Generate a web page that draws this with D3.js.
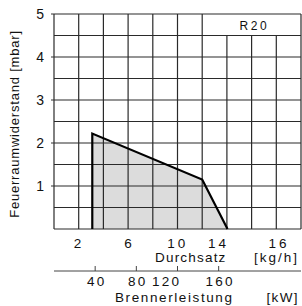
<!DOCTYPE html>
<html>
<head>
<meta charset="utf-8">
<script src="https://cdn.jsdelivr.net/npm/d3@7"></script>
<style>
  body { margin: 0; background: #fff; }
  text { font-family: "Liberation Sans", Arial, sans-serif; fill: #111; }
</style>
</head>
<body>
<div id="chart"></div>
<script>
// data
var mbarTicks = [1, 2, 3, 4, 5];
// the printed kg/h and kW labels do not sit exactly on the grid, so keep where they stand
var durchsatzLabels = ["2", "6", "10", "14", "16"];
var durchsatzLabelAt = [1.9, 6, 9.9, 13.2, 18.1];   // kg/h on the grid
var kwTicks = [40, 80, 120, 160];
var kwLabels = ["40", "80", "120", "160"];
var kwLabelAt = [40, 80, 108, 160];
var fieldX = [3.1, 3.1, 12.0, 14.05];   // kg/h
var fieldY = [0, 2.22, 1.15, 0];        // mbar
var modelName = "R20";

var width = 302;
var height = 306;
var plotLeft = 54, plotRight = 301, plotTop = 14, plotBottom = 229;

var svg = d3.select("#chart")
    .append("svg")
    .attr("width", width)
    .attr("height", height);

var xScale = d3.scaleLinear().domain([0, 20]).range([plotLeft, plotRight]);
var yScale = d3.scaleLinear().domain([0, 5]).range([plotBottom, plotTop]);
var kwScale = d3.scaleLinear().domain([0, 240]).range([plotLeft, plotRight]);

// working field
var pts = fieldX.map(function(x, i) { return [xScale(x), yScale(fieldY[i])]; });
svg.append("path")
    .attr("d", "M" + pts.join("L") + "Z")
    .attr("fill", "#dcdcdc");

// grid
var grid = svg.append("g").attr("stroke", "#2a2a2a").attr("stroke-width", 1.2);
d3.range(0, 21, 2).forEach(function(v) {
    var x = xScale(v);
    // top row has a label box over the right part
    var y0 = (v > 12 && v < 20) ? yScale(4.5) : plotTop;
    grid.append("line")
        .attr("x1", x).attr("x2", x)
        .attr("y1", y0).attr("y2", plotBottom);
});
d3.range(0, 5.01, 0.5).forEach(function(v) {
    var y = yScale(v);
    grid.append("line")
        .attr("x1", plotLeft).attr("x2", plotRight)
        .attr("y1", y).attr("y2", y);
});

// outline of field
svg.append("path")
    .attr("d", "M" + pts.join("L"))
    .attr("fill", "none")
    .attr("stroke", "#000")
    .attr("stroke-width", 2.2)
    .attr("stroke-linejoin", "miter");

svg.append("text")
    .attr("x", xScale(16.1) + 1.5)
    .attr("y", 30)
    .attr("text-anchor", "middle")
    .attr("font-size", 12)
    .attr("letter-spacing", 2.6)
    .text(modelName);

// y ticks
var yAxis = svg.append("g");
mbarTicks.forEach(function(v) {
    yAxis.append("line")
        .attr("x1", plotLeft - 3).attr("x2", plotLeft)
        .attr("y1", yScale(v)).attr("y2", yScale(v))
        .attr("stroke", "#333");
    yAxis.append("text")
        .attr("x", plotLeft - 10)
        .attr("y", yScale(v) + 5)
        .attr("text-anchor", "end")
        .attr("font-size", 14)
        .text(v);
});

svg.append("text")
    .attr("transform", "translate(19,124) rotate(-90)")
    .attr("text-anchor", "middle")
    .attr("font-size", 13)
    .attr("letter-spacing", 0.8)
    .text("Feuerraumwiderstand [mbar]");

// x labels (Durchsatz)
durchsatzLabels.forEach(function(t, i) {
    svg.append("text")
        .attr("x", xScale(durchsatzLabelAt[i]) + 1.5)
        .attr("y", 248)
        .attr("text-anchor", "middle")
        .attr("font-size", 13.5)
        .attr("letter-spacing", 3)
        .text(t);
});
svg.append("text")
    .attr("x", 155)
    .attr("y", 262)
    .attr("font-size", 13.5)
    .attr("letter-spacing", 1.2)
    .text("Durchsatz");
svg.append("text")
    .attr("x", 299)
    .attr("y", 262)
    .attr("text-anchor", "end")
    .attr("font-size", 13.5)
    .attr("letter-spacing", 2)
    .text("[kg/h]");

// second axis (Brennerleistung)
var kwAxis = svg.append("g").attr("stroke", "#444");
kwAxis.append("line")
    .attr("x1", plotLeft).attr("x2", plotRight)
    .attr("y1", 271).attr("y2", 271);
kwTicks.forEach(function(v) {
    kwAxis.append("line")
        .attr("x1", kwScale(v)).attr("x2", kwScale(v))
        .attr("y1", 266).attr("y2", 271);
});
kwLabels.forEach(function(t, i) {
    svg.append("text")
        .attr("x", kwScale(kwLabelAt[i]) + 1.5)
        .attr("y", 285.5)
        .attr("text-anchor", "middle")
        .attr("font-size", 13.5)
        .attr("letter-spacing", 2.2)
        .text(t);
});
svg.append("text")
    .attr("x", 115)
    .attr("y", 302)
    .attr("font-size", 13.5)
    .attr("letter-spacing", 1.6)
    .text("Brennerleistung");
svg.append("text")
    .attr("x", 299)
    .attr("y", 302)
    .attr("text-anchor", "end")
    .attr("font-size", 13.5)
    .attr("letter-spacing", 1.4)
    .text("[kW]");
</script>
</body>
</html>
